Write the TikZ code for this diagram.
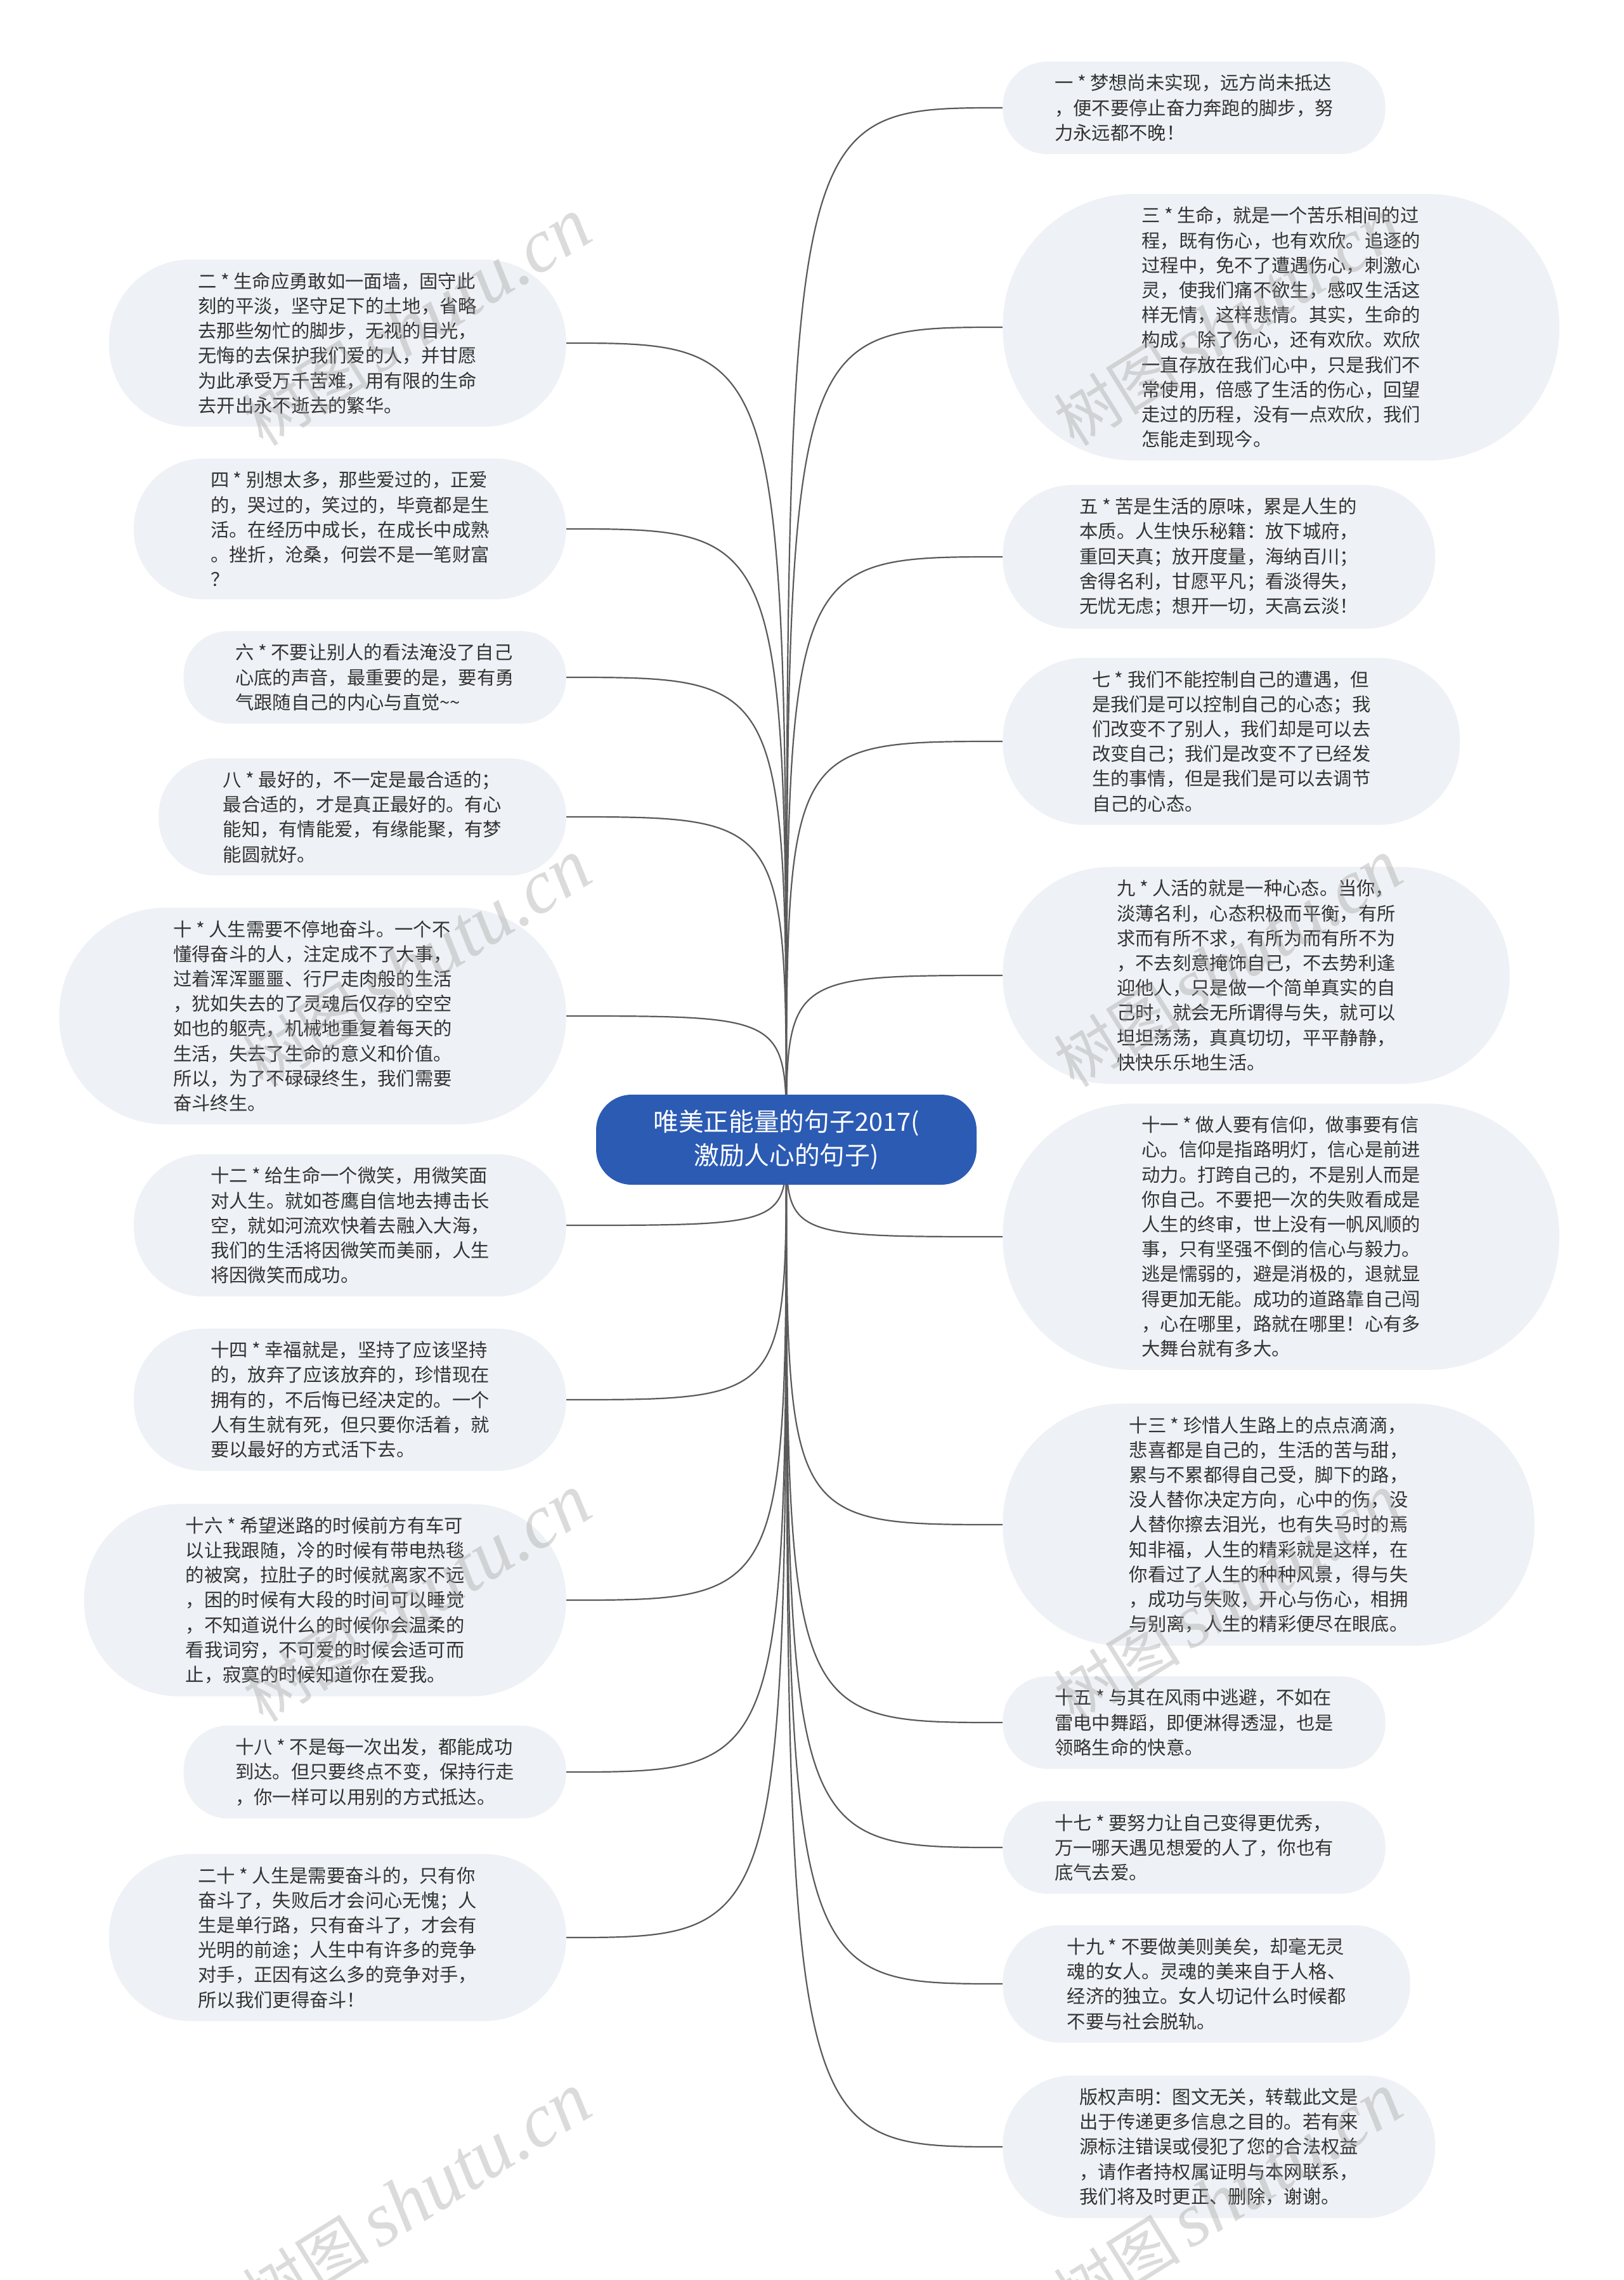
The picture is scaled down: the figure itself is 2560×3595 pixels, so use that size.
\documentclass[tikz,border=0pt]{standalone}
\usepackage{fontspec}
\setmainfont{Noto Sans CJK SC}
\newfontfamily\wmcjk{Noto Sans CJK SC}
\newfontfamily\wmlat{Liberation Serif}
\usetikzlibrary{backgrounds}
\definecolor{leaf}{RGB}{238,241,245}
\definecolor{rootblue}{RGB}{44,91,180}
\definecolor{edgec}{RGB}{90,90,90}
\definecolor{txt}{RGB}{51,51,51}
\tikzset{
  leafnode/.style={rectangle, fill=leaf, text=txt, align=left,
    inner ysep=10pt, font=\fontsize{14.65}{19.6}\selectfont},
  p3/.style={leafnode, rounded corners=35pt, inner xsep=40.9pt},
  p4/.style={leafnode, rounded corners=44.7pt, inner xsep=50.7pt},
  p5/.style={leafnode, rounded corners=54.5pt, inner xsep=60.5pt},
  p6/.style={leafnode, rounded corners=64.3pt, inner xsep=70.3pt},
  p7/.style={leafnode, rounded corners=74.1pt, inner xsep=80.1pt},
  p8/.style={leafnode, rounded corners=83.9pt, inner xsep=89.9pt},
  p9/.style={leafnode, rounded corners=93.7pt, inner xsep=99.7pt},
  p10/.style={leafnode, rounded corners=103.5pt, inner xsep=109.5pt},
  rootnode/.style={rectangle, rounded corners=28pt, fill=rootblue, text=white,
    align=center, minimum width=300pt, minimum height=71pt,
    font=\fontsize{19.85}{26.4}\selectfont},
  link/.style={draw=edgec, line width=1.1pt},
  wmark/.style={text=black!40, text opacity=0.35, rotate=32, inner sep=0pt}
}
\newcommand{\wmtext}{{\wmcjk\fontsize{50}{50}\selectfont 树图}\hspace{8pt}{\wmlat\itshape\fontsize{60}{60}\selectfont shutu.cn}}
\begin{document}
\begin{tikzpicture}[x=0.5pt,y=-0.5pt]
\useasboundingbox (0,0) rectangle (2560,3595);

\node[rootnode] (root) at (1240,1797) {唯美正能量的句子2017(\\激励人心的句子)};

% right column
\node[p3, anchor=west] (r1) at (1581,170) {一 * 梦想尚未实现，远方尚未抵达\\，便不要停止奋力奔跑的脚步，努\\力永远都不晚！};
\node[p10, anchor=west] (r3) at (1581,516) {三 * 生命，就是一个苦乐相间的过\\程，既有伤心，也有欢欣。追逐的\\过程中，免不了遭遇伤心，刺激心\\灵，使我们痛不欲生，感叹生活这\\样无情，这样悲情。其实，生命的\\构成，除了伤心，还有欢欣。欢欣\\一直存放在我们心中，只是我们不\\常使用，倍感了生活的伤心，回望\\走过的历程，没有一点欢欣，我们\\怎能走到现今。};
\node[p5, anchor=west] (r5) at (1581,878) {五 * 苦是生活的原味，累是人生的\\本质。人生快乐秘籍：放下城府，\\重回天真；放开度量，海纳百川；\\舍得名利，甘愿平凡；看淡得失，\\无忧无虑；想开一切，天高云淡！};
\node[p6, anchor=west] (r7) at (1581,1169) {七 * 我们不能控制自己的遭遇，但\\是我们是可以控制自己的心态；我\\们改变不了别人，我们却是可以去\\改变自己；我们是改变不了已经发\\生的事情，但是我们是可以去调节\\自己的心态。};
\node[p8, anchor=west] (r9) at (1581,1538) {九 * 人活的就是一种心态。当你，\\淡薄名利，心态积极而平衡，有所\\求而有所不求，有所为而有所不为\\，不去刻意掩饰自己，不去势利逢\\迎他人，只是做一个简单真实的自\\己时，就会无所谓得与失，就可以\\坦坦荡荡，真真切切，平平静静，\\快快乐乐地生活。};
\node[p10, anchor=west] (r11) at (1581,1950) {十一 * 做人要有信仰，做事要有信\\心。信仰是指路明灯，信心是前进\\动力。打跨自己的，不是别人而是\\你自己。不要把一次的失败看成是\\人生的终审，世上没有一帆风顺的\\事，只有坚强不倒的信心与毅力。\\逃是懦弱的，避是消极的，退就显\\得更加无能。成功的道路靠自己闯\\，心在哪里，路就在哪里！心有多\\大舞台就有多大。};
\node[p9, anchor=west] (r13) at (1581,2404) {十三 * 珍惜人生路上的点点滴滴，\\悲喜都是自己的，生活的苦与甜，\\累与不累都得自己受，脚下的路，\\没人替你决定方向，心中的伤，没\\人替你擦去泪光，也有失马时的焉\\知非福，人生的精彩就是这样，在\\你看过了人生的种种风景，得与失\\，成功与失败，开心与伤心，相拥\\与别离，人生的精彩便尽在眼底。};
\node[p3, anchor=west] (r15) at (1581,2716) {十五 * 与其在风雨中逃避，不如在\\雷电中舞蹈，即便淋得透湿，也是\\领略生命的快意。};
\node[p3, anchor=west] (r17) at (1581,2913) {十七 * 要努力让自己变得更优秀，\\万一哪天遇见想爱的人了，你也有\\底气去爱。};
\node[p4, anchor=west] (r19) at (1581,3128) {十九 * 不要做美则美矣，却毫无灵\\魂的女人。灵魂的美来自于人格、\\经济的独立。女人切记什么时候都\\不要与社会脱轨。};
\node[p5, anchor=west] (rc) at (1581,3385) {版权声明：图文无关，转载此文是\\出于传递更多信息之目的。若有来\\源标注错误或侵犯了您的合法权益\\，请作者持权属证明与本网联系，\\我们将及时更正、删除，谢谢。};

% left column
\node[p6, anchor=east] (l2) at (893,541) {二 * 生命应勇敢如一面墙，固守此\\刻的平淡，坚守足下的土地，省略\\去那些匆忙的脚步，无视的目光，\\无悔的去保护我们爱的人，并甘愿\\为此承受万千苦难，用有限的生命\\去开出永不逝去的繁华。};
\node[p5, anchor=east] (l4) at (893,834) {四 * 别想太多，那些爱过的，正爱\\的，哭过的，笑过的，毕竟都是生\\活。在经历中成长，在成长中成熟\\。挫折，沧桑，何尝不是一笔财富\\？};
\node[p3, anchor=east] (l6) at (893,1068) {六 * 不要让别人的看法淹没了自己\\心底的声音，最重要的是，要有勇\\气跟随自己的内心与直觉\textasciitilde\textasciitilde};
\node[p4, anchor=east] (l8) at (893,1288) {八 * 最好的，不一定是最合适的；\\最合适的，才是真正最好的。有心\\能知，有情能爱，有缘能聚，有梦\\能圆就好。};
\node[p8, anchor=east] (l10) at (893,1602) {十 * 人生需要不停地奋斗。一个不\\懂得奋斗的人，注定成不了大事，\\过着浑浑噩噩、行尸走肉般的生活\\，犹如失去的了灵魂后仅存的空空\\如也的躯壳，机械地重复着每天的\\生活，失去了生命的意义和价值。\\所以，为了不碌碌终生，我们需要\\奋斗终生。};
\node[p5, anchor=east] (l12) at (893,1932) {十二 * 给生命一个微笑，用微笑面\\对人生。就如苍鹰自信地去搏击长\\空，就如河流欢快着去融入大海，\\我们的生活将因微笑而美丽，人生\\将因微笑而成功。};
\node[p5, anchor=east] (l14) at (893,2207) {十四 * 幸福就是，坚持了应该坚持\\的，放弃了应该放弃的，珍惜现在\\拥有的，不后悔已经决定的。一个\\人有生就有死，但只要你活着，就\\要以最好的方式活下去。};
\node[p7, anchor=east] (l16) at (893,2523) {十六 * 希望迷路的时候前方有车可\\以让我跟随，冷的时候有带电热毯\\的被窝，拉肚子的时候就离家不远\\，困的时候有大段的时间可以睡觉\\，不知道说什么的时候你会温柔的\\看我词穷，不可爱的时候会适可而\\止，寂寞的时候知道你在爱我。};
\node[p3, anchor=east] (l18) at (893,2794) {十八 * 不是每一次出发，都能成功\\到达。但只要终点不变，保持行走\\，你一样可以用别的方式抵达。};
\node[p6, anchor=east] (l20) at (893,3055) {二十 * 人生是需要奋斗的，只有你\\奋斗了，失败后才会问心无愧；人\\生是单行路，只有奋斗了，才会有\\光明的前途；人生中有许多的竞争\\对手，正因有这么多的竞争对手，\\所以我们更得奋斗！};

\begin{scope}[on background layer]
\fill[white] (0,0) rectangle (2560,3595);
\foreach \n in {r1,r3,r5,r7,r9,r11,r13,r15,r17,r19,rc}
  \draw[link] (root.center) .. controls (root.center |- \n.west) and (root.center |- \n.west) .. (\n.west);
\foreach \n in {l2,l4,l6,l8,l10,l12,l14,l16,l18,l20}
  \draw[link] (root.center) .. controls (root.center |- \n.east) and (root.center |- \n.east) .. (\n.east);
\end{scope}

% watermarks
\node[wmark] (wm1) at (658,509) {\wmtext};
\node[wmark] (wm2) at (1937,509) {\wmtext};
\node[wmark] (wm3) at (658,1520) {\wmtext};
\node[wmark] (wm4) at (1937,1520) {\wmtext};
\node[wmark] (wm5) at (658,2521) {\wmtext};
\node[wmark] (wm6) at (1937,2521) {\wmtext};
\node[wmark] (wm7) at (658,3465) {\wmtext};
\node[wmark] (wm8) at (1937,3465) {\wmtext};
\end{tikzpicture}
\end{document}
